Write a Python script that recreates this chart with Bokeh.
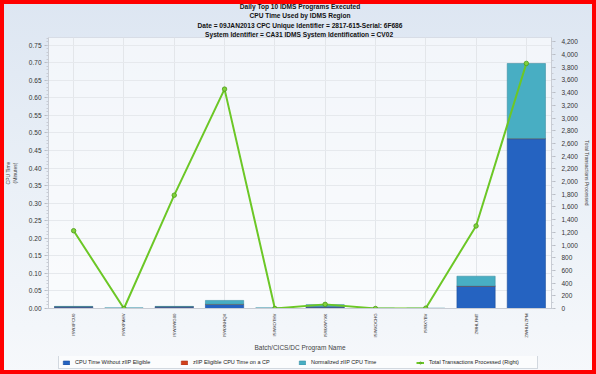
import math
from bokeh.plotting import figure
from bokeh.layouts import column
from bokeh.models import (Range1d, LinearAxis, FactorRange, SingleIntervalTicker,
                          NumeralTickFormatter, Legend, LegendItem, Title, ColumnDataSource)
from bokeh.embed import file_html
from bokeh.resources import INLINE

programs = ["ISWXFCU0", "ISWXPAHV", "ISWXWG00", "ISWXNHQX", "ISWXOTHV",
            "ISWXWYXK", "ISWXOCHG", "ISWXYBV", "ZWHLFMT", "ZWHLNZPM"]
cpu_no_ziip = [0.005, 0.0, 0.005, 0.012, 0.0, 0.005, 0.0, 0.0, 0.064, 0.484]
ziip_on_cp = [0.0, 0.0, 0.0, 0.0, 0.0, 0.0, 0.0, 0.0, 0.0, 0.0]
norm_ziip = [0.001, 0.002, 0.001, 0.011, 0.002, 0.006, 0.001, 0.001, 0.028, 0.214]
transactions = [1225, 0, 1785, 3455, 0, 65, 0, 5, 1300, 3860]

series_names = ["CPU Time Without zIIP Eligible", "zIIP Eligible CPU Time on a CP",
                "Normalized zIIP CPU Time"]
line_name = "Total Transactions Processed (Right)"

title_lines = ["Daily Top 10 IDMS Programs Executed", "CPU Time Used by IDMS Region",
               "Date = 09JAN2013 CPC Unique Identifier = 2817-615-Serial: 6F686",
               "System Identifier = CA31  IDMS System Identification = CV02"]

FONT = "Liberation Sans"
colors = ["#2563c1", "#d2401c", "#48aec3"]
edge_colors = ["#1d4f9a", "#a8331a", "#3a8fa3"]

src = ColumnDataSource(dict(prog=programs, a=cpu_no_ziip, b=ziip_on_cp, c=norm_ziip,
                            t=transactions))

# ---------------- main chart ----------------
main = figure(frame_width=503, frame_height=271, x_range=FactorRange(*programs),
              y_range=Range1d(0, 0.772), output_backend="svg", toolbar_location=None,
              min_border_left=48, min_border_right=45, min_border_top=37, min_border_bottom=48)
main.border_fill_color = None
main.background_fill_color = "#ffffff"
main.background_fill_alpha = 0.6
main.outline_line_color = "#d8dde6"
main.extra_y_ranges = {"right": Range1d(0, 4268)}

main.vbar_stack(["a", "b", "c"], x="prog", width=0.76, source=src, color=colors,
                line_color=edge_colors, line_width=0.6)
main.line(x="prog", y="t", source=src, y_range_name="right", line_color="#6cc726", line_width=2)
main.scatter(x="prog", y="t", source=src, y_range_name="right", size=4.5,
             fill_color="#7fd13b", line_color="#4f9a1a", line_width=0.8)

ya = main.yaxis[0]
ya.ticker = SingleIntervalTicker(interval=0.05, num_minor_ticks=5)
ya.formatter = NumeralTickFormatter(format="0.00")
ya.axis_label = "CPU Time\n(Minutes)"
ya.axis_label_text_font_size = "5px"
ya.axis_label_text_font_style = "normal"
ya.axis_label_text_font = FONT
ya.axis_label_standoff = 8
ya.major_label_text_font_size = "6.5px"
ya.major_label_text_font = FONT
ya.major_label_text_color = "#333333"
ya.axis_line_color = "#c8ccd4"
ya.major_tick_line_color = "#b8bcc4"
ya.minor_tick_line_color = "#c8ccd4"
ya.major_tick_out = 4
ya.major_tick_in = 0
ya.minor_tick_out = 2
ya.minor_tick_in = 0
ya.major_label_standoff = 3

ra = LinearAxis(y_range_name="right",
                ticker=SingleIntervalTicker(interval=200, num_minor_ticks=2),
                formatter=NumeralTickFormatter(format="0,0"))
ra.axis_label = "Total Transactions Processed"
ra.axis_label_text_font_size = "5px"
ra.axis_label_text_font_style = "normal"
ra.axis_label_text_font = FONT
ra.axis_label_standoff = 3
ra.major_label_text_font_size = "6.5px"
ra.major_label_text_font = FONT
ra.major_label_text_color = "#333333"
ra.axis_line_color = "#c8ccd4"
ra.major_tick_line_color = "#b8bcc4"
ra.minor_tick_line_color = "#c8ccd4"
ra.major_tick_out = 4
ra.major_tick_in = 0
ra.minor_tick_out = 2
ra.minor_tick_in = 0
ra.major_label_standoff = 6
main.add_layout(ra, "right")

xa = main.xaxis[0]
xa.major_label_orientation = math.pi / 2
xa.major_label_text_font_size = "4.3px"
xa.major_label_text_font = FONT
xa.major_label_text_color = "#333333"
xa.axis_label = "Batch/CICS/DC Program Name"
xa.axis_label_text_font_size = "6.5px"
xa.axis_label_text_font_style = "normal"
xa.axis_label_text_font = FONT
xa.axis_label_standoff = 3
xa.axis_line_color = "#c8ccd4"
xa.major_tick_line_color = None
xa.major_tick_out = 0
xa.major_tick_in = 0
xa.minor_tick_out = 0
xa.major_label_standoff = 5

main.xgrid.grid_line_color = "#e3e6ea"
main.ygrid.grid_line_color = "#e6e9ed"

for i, txt in enumerate(reversed(title_lines)):
    t = Title(text=txt, align="center", text_font_size="6.6px", text_font=FONT,
              text_font_style="bold", standoff=(1 if i == 2 else 0), offset=0,
              text_color="#111111")
    main.add_layout(t, "above")

# ---------------- legend strip ----------------
lg = figure(width=596, height=18, x_range=FactorRange(*programs), y_range=Range1d(10, 11),
            x_axis_type=None, y_axis_type=None, output_backend="svg", toolbar_location=None,
            min_border=0)
lg.border_fill_color = None
lg.background_fill_color = None
lg.outline_line_color = None
lg.grid.visible = False
lg.extra_y_ranges = {"right": Range1d(10000, 10001)}
lbars = lg.vbar_stack(["a", "b", "c"], x="prog", width=0.76, source=src, color=colors,
                      line_color=edge_colors, line_width=0.6)
lln = lg.line(x="prog", y="t", source=src, y_range_name="right", line_color="#6cc726",
              line_width=2)
lmk = lg.scatter(x="prog", y="t", source=src, y_range_name="right", size=4.5,
                 fill_color="#7fd13b", line_color="#4f9a1a", line_width=0.8)

items = [LegendItem(label=series_names[i], renderers=[lbars[i]]) for i in range(3)]
items.append(LegendItem(label=line_name, renderers=[lln, lmk]))
leg = Legend(items=items, orientation="horizontal", location=(10, 5),
             label_text_font_size="5.5px", label_text_font=FONT, label_text_color="#222222",
             glyph_width=8, glyph_height=5, label_standoff=5, label_width=105, spacing=0,
             padding=3, margin=0, border_line_color="#a9b3c2", background_fill_color="#ffffff",
             background_fill_alpha=0.6, label_height=6)
lg.add_layout(leg)

p = column(main, lg, spacing=0)
p.styles = {"background": "linear-gradient(to bottom, #dde6f2 0%, #eaf0f7 50%, #f6f8fb 100%)",
            "box-shadow": "inset 0 0 0 4px #ff0000"}

open("out.html", "w").write(file_html(p, INLINE))
